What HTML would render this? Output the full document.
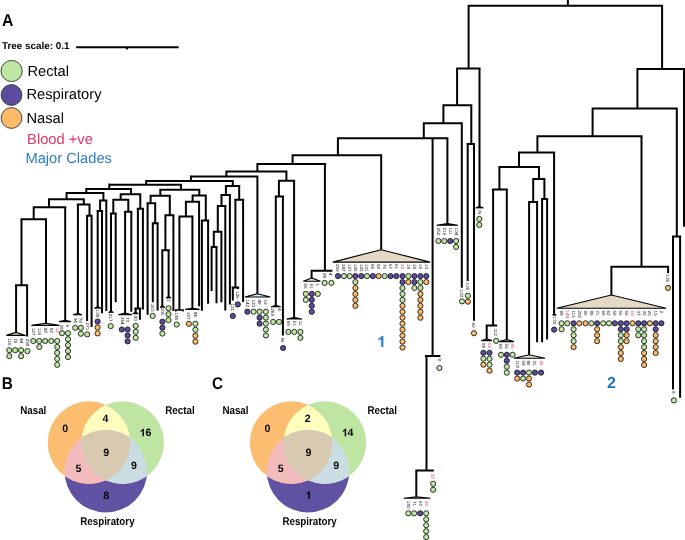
<!DOCTYPE html>
<html><head><meta charset="utf-8"><style>
html,body{margin:0;padding:0;background:#fff;}
body{width:685px;height:540px;overflow:hidden;}
svg{display:block;font-family:"Liberation Sans",sans-serif;text-rendering:geometricPrecision;opacity:0.995;}
</style></head><body>
<svg width="685" height="540" viewBox="0 0 685 540">
<text transform="translate(2.1 25.9) scale(0.92 1)" font-size="17.2" font-weight="bold">A</text>
<text x="2" y="48.9" font-size="9.9" font-weight="bold">Tree scale: 0.1</text>
<path d="M76.1 47.3H178.6M126.9 47.3V49.4" stroke="#000" stroke-width="2"/>
<g stroke="#333" stroke-width="0.9"><circle cx="11.6" cy="71" r="10.6" fill="#bde7a3"/><circle cx="11.5" cy="95" r="10.4" fill="#5b4ba0"/><circle cx="11.5" cy="118" r="10.4" fill="#fdbb69"/></g>
<g font-size="14.7"><text x="27.4" y="75.8">Rectal</text><text x="26.4" y="99.2">Respiratory</text><text x="26.4" y="122.8">Nasal</text><text x="27.1" y="143.7" fill="#dc3366">Blood +ve</text><text x="25.4" y="163.1" fill="#2a7bc4">Major Clades</text></g>
<path d="M467.6 5.7H663.1M636.4 68.9H685.5M591.6 108.6H677.8M672 236.4H681.1M456.1 68.6H480.6M442.4 105.3H472.3M466.6 144.1H475.1M422.8 123.3H462.7M336.9 138.2H448.3M424.9 356H440.4M415.3 470.4H433.8M536.4 136.2H642.6M610.4 266.7H669.1M518 152.4H555.2M498.4 167.1H540M532.2 179.1H545.4M528.1 201.9H538.1M541.1 198.9H548.1M491.9 189.4H507.9M485.7 325.5H497.1M291.6 155.2H382.1M256.4 163.9H326.2M310.6 270.7H332.4M225.4 171.4H287.4M277.9 180.7H295.2M274.7 196.6H284M189.9 176.6H258.4M145.2 181.1H233.8M224.9 186.1H240.2M234.3 199.7H244.2M231.6 287.4H239.2M220.5 194.9H230.9M216.8 206.1H226.4M212.8 231.8H222.4M210.6 247.1H217.6M108.3 184.8H182M159.3 189.7H200.2M191.6 195.4H206.8M184.9 201.8H200M178.6 216.6H193.4M201 220.6H209.2M149.6 195.7H170.8M146.5 203.2H156.2M151.8 223.3H158.8M164.4 215.3H174.4M161.4 250.2H169.8M85.3 188.9H132M65.6 193.1H104.4M48 199.2H84.8M32.7 207.2H66.3M20.5 219.2H47M15 285.3H28.1M76.8 204.5H90.5M86 215.7H92.6M99.1 200.4H107.4M96.6 210.9H103.1M119.7 194.2H141.3M112.3 199.7H129.3M109.9 213.5H116.8M124.1 211.8H132.3M136.7 208.8H144.1M134.3 308.4H141.2M567.9 0V5.7M662.1 4.7V68.9M684 67.9V226.7M637.4 67.9V108.6M676.8 107.6V236.4M673 235.4V389.4M680.1 235.4V397.8M468.6 4.7V68.6M479.5 67.6V207.2M457.1 67.6V105.3M471.3 104.3V144.1M467.7 143.1V281M474 143.1V320.7M443.4 104.3V123.3M461.8 122.3V287.8M423.8 122.3V138.2M447.4 137.2V223.8M432.6 137.2V356M426.5 355V470.4M416.3 469.4V496.7M592.6 107.6V136.2M641.5 135.2V266.7M611.4 265.7V295M668.1 265.7V273.3M537.4 135.2V152.4M554.1 151.4V314.4M519 151.4V167.1M539 166.1V179.1M533.2 178.1V201.9M529.1 200.9V354.8M537.1 200.9V342.2M544.4 178.1V198.9M542.1 197.9V342.2M547.1 197.9V339.6M499.4 166.1V189.4M493.1 188.4V325.5M486.7 324.5V339.1M496.1 324.5V326.5M506.8 188.4V339.7M337.9 137.2V155.2M381.2 154.2V249.7M292.6 154.2V163.9M324.9 162.9V270.7M311.6 269.7V277.9M257.4 162.9V171.4M286.4 170.4V180.7M294.1 179.7V317.4M278.9 179.7V196.6M275.8 195.6V305.8M282.9 195.6V335.6M226.4 170.4V176.6M257.4 175.6V293.7M190.9 175.6V181.1M232.8 180.1V186.1M239.2 185.1V199.7M235.4 198.7V287.4M232.8 286.4V300.4M237.9 286.4V288.9M243.1 198.7V302.1M225.9 185.1V194.9M229.9 193.9V304.4M221.5 193.9V206.1M225.3 205.1V310.4M217.8 205.1V231.8M221.4 230.8V302.2M213.8 230.8V247.1M211.6 246.1V291.1M216.5 246.1V303.3M146.2 180.1V184.8M181 183.8V189.7M199.3 188.7V195.4M192.6 194.4V201.8M199.1 200.8V306.2M185.9 200.8V216.6M179.4 215.6V309.9M192.4 215.6V308.4M205.8 194.4V220.6M201.9 219.6V310.7M208.1 219.6V303.8M160.3 188.7V195.7M150.6 194.7V203.2M147.6 202.2V314.8M155.2 202.2V223.3M152.8 222.3V302.3M157.6 222.3V310.6M169.8 194.7V215.3M173.4 214.3V311.1M165.4 214.3V250.2M162.3 249.2V306.5M168.6 249.2V297.2M109.3 183.6V188.9M86.3 187.9V193.1M66.6 192.1V199.2M49 198.2V207.2M33.7 206.2V219.2M21.5 218.2V285.3M16.1 284.3V332.4M27.1 284.3V336.5M46 218.2V323.3M65.2 206.2V320.4M83.8 198.2V204.5M77.9 203.5V314.1M89.5 203.5V215.7M87.1 214.7V321.1M91.6 214.7V327M103.4 192.1V200.4M106.3 199.4V311M100.1 199.4V210.9M97.7 209.9V307.4M102 209.9V313.3M131 187.9V194.2M120.7 193.2V199.7M113.3 198.7V213.5M111 212.5V311.6M115.7 212.5V302.2M128.3 198.7V211.8M125.1 210.8V313.3M131.3 210.8V311.8M140.3 193.2V208.8M137.9 207.8V308.4M135.7 307.4V313.2M139.9 307.4V319.8M142.9 207.8V309.6" stroke="#000" stroke-width="2.0" fill="none"/>
<path d="M16.1 332.4L6.3 335.4L25.6 335.4Z" fill="#c8eab4" stroke="#000" stroke-width="1.1" stroke-linejoin="miter"/><path d="M46 323.3L31.4 325.4L59.3 325.4Z" fill="#c8eab4" stroke="#000" stroke-width="1.1" stroke-linejoin="miter"/><path d="M65.2 320.4L59.1 321.6L70.9 321.6Z" fill="#c8eab4" stroke="#000" stroke-width="1.1" stroke-linejoin="miter"/><path d="M125.1 313L118.3 314.8L132 314.8Z" fill="#222" stroke="#000" stroke-width="1.1" stroke-linejoin="miter"/><path d="M135.7 312.6L132.7 313.6L138.2 313.6Z" fill="#222" stroke="#000" stroke-width="1.1" stroke-linejoin="miter"/><path d="M192.4 308.2L185.3 309.4L199.6 309.4Z" fill="#222" stroke="#000" stroke-width="1.1" stroke-linejoin="miter"/><path d="M257.4 293.7L244.8 297L270.4 297Z" fill="#d6ebf3" stroke="#000" stroke-width="1.1" stroke-linejoin="miter"/><path d="M311.6 277.9L303.3 281.2L320.4 281.2Z" fill="#d6ebf3" stroke="#000" stroke-width="1.1" stroke-linejoin="miter"/><path d="M381.2 249.7L332.8 262.1L430 262.1Z" fill="#e3d9c6" stroke="#000" stroke-width="1.1" stroke-linejoin="miter"/><path d="M447.4 223.6L436.6 225.2L457.9 225.2Z" fill="#222" stroke="#000" stroke-width="1.1" stroke-linejoin="miter"/><path d="M486.7 338.9L481.3 340.6L492 340.6Z" fill="#e8e0d0" stroke="#000" stroke-width="1.1" stroke-linejoin="miter"/><path d="M506.8 339.6L499.1 341.6L513.9 341.6Z" fill="#e8e0d0" stroke="#000" stroke-width="1.1" stroke-linejoin="miter"/><path d="M529.1 354.8L514 358.2L545 358.2Z" fill="#e8e0d0" stroke="#000" stroke-width="1.1" stroke-linejoin="miter"/><path d="M611.4 295L556.7 308.2L666.2 308.2Z" fill="#e3d9c6" stroke="#000" stroke-width="1.1" stroke-linejoin="miter"/><path d="M416.3 496.7L403.7 498.3L430.4 498.3Z" fill="#dde8ea" stroke="#000" stroke-width="1.1" stroke-linejoin="miter"/><path d="M77.9 313.1L73.1 314.85L82 314.85Z" fill="#000" stroke="#000" stroke-width="0.9" stroke-linejoin="round"/><path d="M97.7 306.4L94.4 308.15L100.9 308.15Z" fill="#000" stroke="#000" stroke-width="0.9" stroke-linejoin="round"/><path d="M162.3 305.5L160 307.25L164.8 307.25Z" fill="#000" stroke="#000" stroke-width="0.9" stroke-linejoin="round"/><path d="M168.6 296.2L165.9 297.95L171.1 297.95Z" fill="#000" stroke="#000" stroke-width="0.9" stroke-linejoin="round"/><path d="M275.8 305.1L271.1 306.85L280.7 306.85Z" fill="#000" stroke="#000" stroke-width="0.9" stroke-linejoin="round"/><path d="M294.1 317.3L286.7 319.05L301.8 319.05Z" fill="#000" stroke="#000" stroke-width="0.9" stroke-linejoin="round"/><path d="M479.5 206.2L475.7 207.95L483.4 207.95Z" fill="#000" stroke="#000" stroke-width="0.9" stroke-linejoin="round"/><path d="M554.1 313.4L552.6 315.15L556.3 315.15Z" fill="#000" stroke="#000" stroke-width="0.9" stroke-linejoin="round"/><path d="M111 310.6L108.6 312.35L113.4 312.35Z" fill="#000" stroke="#000" stroke-width="0.9" stroke-linejoin="round"/><path d="M175.7 311.4V309.9H183.1V311.4" fill="none" stroke="#000" stroke-width="1.5"/>
<g stroke="#111" stroke-width="0.85"><circle cx="9.3" cy="350.2" r="2.6" fill="#bde7a3"/><circle cx="9.3" cy="356.15" r="2.6" fill="#bde7a3"/><circle cx="15.2" cy="350.2" r="2.6" fill="#bde7a3"/><circle cx="21.1" cy="350.2" r="2.6" fill="#bde7a3"/><circle cx="21.1" cy="356.15" r="2.6" fill="#bde7a3"/><circle cx="27.4" cy="351.1" r="2.6" fill="#bde7a3"/><circle cx="33.3" cy="341" r="2.6" fill="#bde7a3"/><circle cx="39.3" cy="341" r="2.6" fill="#bde7a3"/><circle cx="39.3" cy="346.95" r="2.6" fill="#bde7a3"/><circle cx="45.2" cy="341" r="2.6" fill="#bde7a3"/><circle cx="51.3" cy="341" r="2.6" fill="#bde7a3"/><circle cx="57.2" cy="341" r="2.6" fill="#bde7a3"/><circle cx="57.2" cy="346.95" r="2.6" fill="#bde7a3"/><circle cx="57.2" cy="352.9" r="2.6" fill="#bde7a3"/><circle cx="57.2" cy="358.85" r="2.6" fill="#bde7a3"/><circle cx="57.2" cy="364.8" r="2.6" fill="#bde7a3"/><circle cx="62" cy="333.2" r="2.6" fill="#bde7a3"/><circle cx="68" cy="333.2" r="2.6" fill="#bde7a3"/><circle cx="68" cy="339.15" r="2.6" fill="#bde7a3"/><circle cx="68" cy="345.1" r="2.6" fill="#bde7a3"/><circle cx="68" cy="351.05" r="2.6" fill="#bde7a3"/><circle cx="68" cy="357" r="2.6" fill="#bde7a3"/><circle cx="75.2" cy="327.8" r="2.6" fill="#bde7a3"/><circle cx="80.9" cy="327.8" r="2.6" fill="#bde7a3"/><circle cx="80.9" cy="333.75" r="2.6" fill="#bde7a3"/><circle cx="87.2" cy="334.4" r="2.6" fill="#bde7a3"/><circle cx="97.6" cy="321.5" r="2.6" fill="#5b4ba0"/><circle cx="97.6" cy="327.45" r="2.6" fill="#fdbb69"/><circle cx="97.6" cy="333.4" r="2.6" fill="#fdbb69"/><circle cx="110.7" cy="326.1" r="2.6" fill="#bde7a3"/><circle cx="121.8" cy="329.5" r="2.6" fill="#5b4ba0"/><circle cx="127.6" cy="329.5" r="2.6" fill="#5b4ba0"/><circle cx="127.6" cy="335.45" r="2.6" fill="#5b4ba0"/><circle cx="127.6" cy="341.4" r="2.6" fill="#5b4ba0"/><circle cx="135.7" cy="325.9" r="2.6" fill="#bde7a3"/><circle cx="135.7" cy="331.85" r="2.6" fill="#bde7a3"/><circle cx="135.7" cy="337.8" r="2.6" fill="#bde7a3"/><circle cx="152.7" cy="315.9" r="2.6" fill="#bde7a3"/><circle cx="162.4" cy="321.7" r="2.6" fill="#5b4ba0"/><circle cx="162.4" cy="327.65" r="2.6" fill="#5b4ba0"/><circle cx="162.4" cy="333.6" r="2.6" fill="#bde7a3"/><circle cx="168.5" cy="308.2" r="2.6" fill="#bde7a3"/><circle cx="168.5" cy="314.15" r="2.6" fill="#bde7a3"/><circle cx="168.5" cy="320.1" r="2.6" fill="#bde7a3"/><circle cx="176.7" cy="324.5" r="2.6" fill="#bde7a3"/><circle cx="188.9" cy="323.8" r="2.6" fill="#fdbb69"/><circle cx="195.4" cy="323.8" r="2.6" fill="#bde7a3"/><circle cx="195.4" cy="329.75" r="2.6" fill="#bde7a3"/><circle cx="195.4" cy="335.7" r="2.6" fill="#fdbb69"/><circle cx="195.4" cy="341.65" r="2.6" fill="#fdbb69"/><circle cx="232.8" cy="315.9" r="2.6" fill="#5b4ba0"/><circle cx="237.8" cy="304.4" r="2.6" fill="#5b4ba0"/><circle cx="247.4" cy="311.7" r="2.6" fill="#5b4ba0"/><circle cx="253.6" cy="311.7" r="2.6" fill="#bde7a3"/><circle cx="259.6" cy="311.7" r="2.6" fill="#bde7a3"/><circle cx="259.6" cy="317.65" r="2.6" fill="#5b4ba0"/><circle cx="259.6" cy="323.6" r="2.6" fill="#5b4ba0"/><circle cx="265.9" cy="311.7" r="2.6" fill="#bde7a3"/><circle cx="265.9" cy="317.65" r="2.6" fill="#bde7a3"/><circle cx="265.9" cy="323.6" r="2.6" fill="#bde7a3"/><circle cx="265.9" cy="329.55" r="2.6" fill="#bde7a3"/><circle cx="265.9" cy="335.5" r="2.6" fill="#bde7a3"/><circle cx="273.1" cy="321.9" r="2.6" fill="#bde7a3"/><circle cx="279.1" cy="321.9" r="2.6" fill="#bde7a3"/><circle cx="283.1" cy="348" r="2.6" fill="#5b4ba0"/><circle cx="288.4" cy="331.9" r="2.6" fill="#bde7a3"/><circle cx="294.3" cy="331.9" r="2.6" fill="#bde7a3"/><circle cx="300.4" cy="331.9" r="2.6" fill="#bde7a3"/><circle cx="300.4" cy="337.85" r="2.6" fill="#bde7a3"/><circle cx="305.8" cy="293.9" r="2.6" fill="#bde7a3"/><circle cx="305.8" cy="299.85" r="2.6" fill="#bde7a3"/><circle cx="311.8" cy="293.9" r="2.6" fill="#5b4ba0"/><circle cx="311.8" cy="299.85" r="2.6" fill="#5b4ba0"/><circle cx="311.8" cy="305.8" r="2.6" fill="#5b4ba0"/><circle cx="311.8" cy="311.75" r="2.6" fill="#5b4ba0"/><circle cx="317.8" cy="293.9" r="2.6" fill="#bde7a3"/><circle cx="324.6" cy="282.9" r="2.6" fill="#bde7a3"/><circle cx="331.4" cy="282.9" r="2.6" fill="#bde7a3"/><circle cx="438.4" cy="241" r="2.6" fill="#bde7a3"/><circle cx="444.3" cy="241" r="2.6" fill="#bde7a3"/><circle cx="450.2" cy="241" r="2.6" fill="#5b4ba0"/><circle cx="456.1" cy="241" r="2.6" fill="#bde7a3"/><circle cx="456.1" cy="246.95" r="2.6" fill="#bde7a3"/><circle cx="479.3" cy="219" r="2.6" fill="#bde7a3"/><circle cx="479.3" cy="224.95" r="2.6" fill="#bde7a3"/><circle cx="462" cy="301.4" r="2.6" fill="#bde7a3"/><circle cx="467.9" cy="295.7" r="2.6" fill="#bde7a3"/><circle cx="467.9" cy="301.65" r="2.6" fill="#fdbb69"/><circle cx="474" cy="333.2" r="2.6" fill="#fdbb69"/><circle cx="439.4" cy="368" r="2.6" fill="#bde7a3"/><circle cx="408.4" cy="513.3" r="2.6" fill="#bde7a3"/><circle cx="414.2" cy="513.3" r="2.6" fill="#bde7a3"/><circle cx="420.2" cy="513.3" r="2.6" fill="#5b4ba0"/><circle cx="426.2" cy="513.3" r="2.6" fill="#bde7a3"/><circle cx="426.2" cy="519.25" r="2.6" fill="#bde7a3"/><circle cx="426.2" cy="525.2" r="2.6" fill="#bde7a3"/><circle cx="426.2" cy="531.15" r="2.6" fill="#bde7a3"/><circle cx="426.2" cy="537.1" r="2.6" fill="#bde7a3"/><circle cx="433.1" cy="483.8" r="2.6" fill="#bde7a3"/><circle cx="433.1" cy="489.75" r="2.6" fill="#bde7a3"/><circle cx="483.4" cy="352.8" r="2.6" fill="#5b4ba0"/><circle cx="483.4" cy="358.75" r="2.6" fill="#bde7a3"/><circle cx="483.4" cy="364.7" r="2.6" fill="#fdbb69"/><circle cx="489.5" cy="352.8" r="2.6" fill="#5b4ba0"/><circle cx="489.5" cy="358.75" r="2.6" fill="#bde7a3"/><circle cx="489.5" cy="364.7" r="2.6" fill="#bde7a3"/><circle cx="489.5" cy="370.65" r="2.6" fill="#fdbb69"/><circle cx="496.1" cy="340.9" r="2.6" fill="#bde7a3"/><circle cx="501" cy="354.8" r="2.6" fill="#bde7a3"/><circle cx="506.8" cy="354.8" r="2.6" fill="#5b4ba0"/><circle cx="506.8" cy="360.75" r="2.6" fill="#5b4ba0"/><circle cx="506.8" cy="366.7" r="2.6" fill="#bde7a3"/><circle cx="506.8" cy="372.65" r="2.6" fill="#bde7a3"/><circle cx="512.6" cy="354.8" r="2.6" fill="#bde7a3"/><circle cx="517.2" cy="372.6" r="2.6" fill="#5b4ba0"/><circle cx="517.2" cy="378.55" r="2.6" fill="#fdbb69"/><circle cx="523.1" cy="372.6" r="2.6" fill="#5b4ba0"/><circle cx="523.1" cy="378.55" r="2.6" fill="#bde7a3"/><circle cx="529" cy="372.6" r="2.6" fill="#bde7a3"/><circle cx="529" cy="378.55" r="2.6" fill="#fdbb69"/><circle cx="529" cy="384.5" r="2.6" fill="#fdbb69"/><circle cx="534.9" cy="372.6" r="2.6" fill="#5b4ba0"/><circle cx="541.1" cy="372.6" r="2.6" fill="#5b4ba0"/><circle cx="554.1" cy="329.6" r="2.6" fill="#5b4ba0"/><circle cx="668" cy="287.9" r="2.6" fill="#fdbb69"/><circle cx="673.9" cy="400.4" r="2.6" fill="#bde7a3"/><circle cx="338" cy="276.1" r="2.6" fill="#5b4ba0"/><circle cx="343.9" cy="276.1" r="2.6" fill="#bde7a3"/><circle cx="349.7" cy="276.1" r="2.6" fill="#bde7a3"/><circle cx="355.4" cy="276.1" r="2.6" fill="#5b4ba0"/><circle cx="355.4" cy="282.05" r="2.6" fill="#bde7a3"/><circle cx="355.4" cy="288" r="2.6" fill="#fdbb69"/><circle cx="355.4" cy="293.95" r="2.6" fill="#fdbb69"/><circle cx="355.4" cy="299.9" r="2.6" fill="#fdbb69"/><circle cx="355.4" cy="305.85" r="2.6" fill="#fdbb69"/><circle cx="361.3" cy="276.1" r="2.6" fill="#5b4ba0"/><circle cx="367" cy="276.1" r="2.6" fill="#bde7a3"/><circle cx="372.9" cy="276.1" r="2.6" fill="#5b4ba0"/><circle cx="378.6" cy="276.1" r="2.6" fill="#fdbb69"/><circle cx="384.6" cy="276.1" r="2.6" fill="#bde7a3"/><circle cx="390.5" cy="276.1" r="2.6" fill="#5b4ba0"/><circle cx="396.3" cy="276.1" r="2.6" fill="#5b4ba0"/><circle cx="402.5" cy="276.1" r="2.6" fill="#5b4ba0"/><circle cx="402.5" cy="282.05" r="2.6" fill="#5b4ba0"/><circle cx="402.5" cy="288" r="2.6" fill="#bde7a3"/><circle cx="402.5" cy="293.95" r="2.6" fill="#bde7a3"/><circle cx="402.5" cy="299.9" r="2.6" fill="#bde7a3"/><circle cx="402.5" cy="305.85" r="2.6" fill="#fdbb69"/><circle cx="402.5" cy="311.8" r="2.6" fill="#fdbb69"/><circle cx="402.5" cy="317.75" r="2.6" fill="#fdbb69"/><circle cx="402.5" cy="323.7" r="2.6" fill="#fdbb69"/><circle cx="402.5" cy="329.65" r="2.6" fill="#fdbb69"/><circle cx="402.5" cy="335.6" r="2.6" fill="#fdbb69"/><circle cx="402.5" cy="341.55" r="2.6" fill="#fdbb69"/><circle cx="402.5" cy="347.5" r="2.6" fill="#fdbb69"/><circle cx="408.4" cy="276.1" r="2.6" fill="#bde7a3"/><circle cx="408.4" cy="282.05" r="2.6" fill="#fdbb69"/><circle cx="414.4" cy="276.1" r="2.6" fill="#5b4ba0"/><circle cx="414.4" cy="282.05" r="2.6" fill="#5b4ba0"/><circle cx="414.4" cy="288" r="2.6" fill="#bde7a3"/><circle cx="420.4" cy="276.1" r="2.6" fill="#5b4ba0"/><circle cx="420.4" cy="282.05" r="2.6" fill="#bde7a3"/><circle cx="420.4" cy="288" r="2.6" fill="#bde7a3"/><circle cx="420.4" cy="293.95" r="2.6" fill="#fdbb69"/><circle cx="420.4" cy="299.9" r="2.6" fill="#fdbb69"/><circle cx="420.4" cy="305.85" r="2.6" fill="#fdbb69"/><circle cx="420.4" cy="311.8" r="2.6" fill="#fdbb69"/><circle cx="420.4" cy="317.75" r="2.6" fill="#fdbb69"/><circle cx="426.3" cy="276.1" r="2.6" fill="#5b4ba0"/><circle cx="426.3" cy="282.05" r="2.6" fill="#fdbb69"/><circle cx="561.6" cy="323.3" r="2.6" fill="#bde7a3"/><circle cx="561.6" cy="329.25" r="2.6" fill="#bde7a3"/><circle cx="567.3" cy="323.3" r="2.6" fill="#bde7a3"/><circle cx="573.6" cy="323.3" r="2.6" fill="#5b4ba0"/><circle cx="573.6" cy="329.25" r="2.6" fill="#bde7a3"/><circle cx="573.6" cy="335.2" r="2.6" fill="#bde7a3"/><circle cx="573.6" cy="341.15" r="2.6" fill="#bde7a3"/><circle cx="573.6" cy="347.1" r="2.6" fill="#fdbb69"/><circle cx="579.3" cy="323.3" r="2.6" fill="#fdbb69"/><circle cx="585.6" cy="323.3" r="2.6" fill="#fdbb69"/><circle cx="591.3" cy="323.3" r="2.6" fill="#bde7a3"/><circle cx="597.1" cy="323.3" r="2.6" fill="#5b4ba0"/><circle cx="597.1" cy="329.25" r="2.6" fill="#fdbb69"/><circle cx="597.1" cy="335.2" r="2.6" fill="#fdbb69"/><circle cx="597.1" cy="341.15" r="2.6" fill="#fdbb69"/><circle cx="603.2" cy="323.3" r="2.6" fill="#bde7a3"/><circle cx="609" cy="323.3" r="2.6" fill="#bde7a3"/><circle cx="614.8" cy="323.3" r="2.6" fill="#5b4ba0"/><circle cx="620.8" cy="323.3" r="2.6" fill="#5b4ba0"/><circle cx="620.8" cy="329.25" r="2.6" fill="#5b4ba0"/><circle cx="620.8" cy="335.2" r="2.6" fill="#bde7a3"/><circle cx="620.8" cy="341.15" r="2.6" fill="#bde7a3"/><circle cx="620.8" cy="347.1" r="2.6" fill="#fdbb69"/><circle cx="620.8" cy="353.05" r="2.6" fill="#fdbb69"/><circle cx="620.8" cy="359" r="2.6" fill="#fdbb69"/><circle cx="626.6" cy="323.3" r="2.6" fill="#5b4ba0"/><circle cx="626.6" cy="329.25" r="2.6" fill="#5b4ba0"/><circle cx="626.6" cy="335.2" r="2.6" fill="#fdbb69"/><circle cx="626.6" cy="341.15" r="2.6" fill="#fdbb69"/><circle cx="632.6" cy="323.3" r="2.6" fill="#fdbb69"/><circle cx="638.3" cy="323.3" r="2.6" fill="#5b4ba0"/><circle cx="638.3" cy="329.25" r="2.6" fill="#bde7a3"/><circle cx="638.3" cy="335.2" r="2.6" fill="#bde7a3"/><circle cx="644.1" cy="323.3" r="2.6" fill="#5b4ba0"/><circle cx="644.1" cy="329.25" r="2.6" fill="#bde7a3"/><circle cx="644.1" cy="335.2" r="2.6" fill="#bde7a3"/><circle cx="644.1" cy="341.15" r="2.6" fill="#bde7a3"/><circle cx="644.1" cy="347.1" r="2.6" fill="#bde7a3"/><circle cx="644.1" cy="353.05" r="2.6" fill="#fdbb69"/><circle cx="644.1" cy="359" r="2.6" fill="#fdbb69"/><circle cx="644.1" cy="364.95" r="2.6" fill="#fdbb69"/><circle cx="649.9" cy="323.3" r="2.6" fill="#fdbb69"/><circle cx="655.7" cy="323.3" r="2.6" fill="#5b4ba0"/><circle cx="655.7" cy="329.25" r="2.6" fill="#5b4ba0"/><circle cx="655.7" cy="335.2" r="2.6" fill="#fdbb69"/><circle cx="655.7" cy="341.15" r="2.6" fill="#fdbb69"/><circle cx="655.7" cy="347.1" r="2.6" fill="#fdbb69"/><circle cx="655.7" cy="353.05" r="2.6" fill="#fdbb69"/><circle cx="661.4" cy="323.3" r="2.6" fill="#5b4ba0"/></g>
<g font-size="4.6" style="opacity:0.99"><text transform="translate(7.7 338.3) rotate(90)" fill="#111">116</text><text transform="translate(13.6 338.3) rotate(90)" fill="#111">75</text><text transform="translate(19.5 338.3) rotate(90)" fill="#111">44</text><text transform="translate(25.8 338.7) rotate(90)" fill="#111">208</text><text transform="translate(31.7 327.8) rotate(90)" fill="#111">127</text><text transform="translate(37.7 327.8) rotate(90)" fill="#111">116</text><text transform="translate(43.6 327.8) rotate(90)" fill="#111">88</text><text transform="translate(49.7 327.8) rotate(90)" fill="#111">82</text><text transform="translate(55.6 327.8) rotate(90)" fill="#e0306e">12</text><text transform="translate(60.4 324.4) rotate(90)" fill="#111">28</text><text transform="translate(66.4 324.4) rotate(90)" fill="#111">6</text><text transform="translate(73.8 317.8) rotate(90)" fill="#111">34</text><text transform="translate(78.6 317.8) rotate(90)" fill="#111">78</text><text transform="translate(85.6 322.6) rotate(90)" fill="#111">271</text><text transform="translate(96 309.6) rotate(90)" fill="#111">138</text><text transform="translate(109.4 313.8) rotate(90)" fill="#111">217</text><text transform="translate(120.8 317) rotate(90)" fill="#111">264</text><text transform="translate(126.4 317) rotate(90)" fill="#111">73</text><text transform="translate(133.8 315.8) rotate(90)" fill="#111">80</text><text transform="translate(151.1 303.8) rotate(90)" fill="#111">163</text><text transform="translate(160.6 308) rotate(90)" fill="#111">205</text><text transform="translate(166.9 299) rotate(90)" fill="#111">3</text><text transform="translate(174.8 312.6) rotate(90)" fill="#111">145</text><text transform="translate(187.3 311.8) rotate(90)" fill="#111">187</text><text transform="translate(193.8 311.8) rotate(90)" fill="#111">84</text><text transform="translate(231.2 303.4) rotate(90)" fill="#111">121</text><text transform="translate(236 291.2) rotate(90)" fill="#111">126</text><text transform="translate(245.8 299.4) rotate(90)" fill="#111">142</text><text transform="translate(252 299.4) rotate(90)" fill="#111">120</text><text transform="translate(258 299.4) rotate(90)" fill="#111">49</text><text transform="translate(264.3 299.4) rotate(90)" fill="#111">19</text><text transform="translate(271.4 308.3) rotate(90)" fill="#111">268</text><text transform="translate(277.5 308.3) rotate(90)" fill="#111">4</text><text transform="translate(281.4 337.4) rotate(90)" fill="#111">86</text><text transform="translate(286.8 320.8) rotate(90)" fill="#111">69</text><text transform="translate(292.6 320.8) rotate(90)" fill="#111">51</text><text transform="translate(298.7 320.8) rotate(90)" fill="#111">11</text><text transform="translate(303.7 283.5) rotate(90)" fill="#111">65</text><text transform="translate(310 283.5) rotate(90)" fill="#111">51</text><text transform="translate(315.6 283.5) rotate(90)" fill="#111">1</text><text transform="translate(322.7 273) rotate(90)" fill="#111">88</text><text transform="translate(329.2 273) rotate(90)" fill="#111">4</text><text transform="translate(436.8 227.6) rotate(90)" fill="#111">252</text><text transform="translate(442.7 227.6) rotate(90)" fill="#111">215</text><text transform="translate(448.6 227.6) rotate(90)" fill="#111">111</text><text transform="translate(454.5 227.6) rotate(90)" fill="#111">104</text><text transform="translate(477.7 209.4) rotate(90)" fill="#111">76</text><text transform="translate(460.2 289.6) rotate(90)" fill="#111">103</text><text transform="translate(466.1 282.6) rotate(90)" fill="#111">105</text><text transform="translate(472.4 322.5) rotate(90)" fill="#111">60</text><text transform="translate(437.8 358.2) rotate(90)" fill="#111">8</text><text transform="translate(406.8 501) rotate(90)" fill="#111">180</text><text transform="translate(412.6 501) rotate(90)" fill="#111">71</text><text transform="translate(418.6 501) rotate(90)" fill="#111">67</text><text transform="translate(424.6 501) rotate(90)" fill="#e0306e">20</text><text transform="translate(431.2 473.4) rotate(90)" fill="#e0306e">30</text><text transform="translate(481.5 343) rotate(90)" fill="#111">88</text><text transform="translate(487.8 343) rotate(90)" fill="#e0306e">52</text><text transform="translate(494.2 328.4) rotate(90)" fill="#111">112</text><text transform="translate(499.3 343.6) rotate(90)" fill="#111">98</text><text transform="translate(505.2 343.6) rotate(90)" fill="#111">56</text><text transform="translate(511.1 343.6) rotate(90)" fill="#e0306e">45</text><text transform="translate(515.6 360.4) rotate(90)" fill="#111">118</text><text transform="translate(521.5 360.4) rotate(90)" fill="#111">58</text><text transform="translate(527.4 360.4) rotate(90)" fill="#111">46</text><text transform="translate(533.3 360.4) rotate(90)" fill="#111">31</text><text transform="translate(539.5 360.4) rotate(90)" fill="#e0306e">26</text><text transform="translate(552.5 316.6) rotate(90)" fill="#111">130</text><text transform="translate(666.2 274.4) rotate(90)" fill="#111">136</text><text transform="translate(671.5 391) rotate(90)" fill="#111">8</text><text transform="translate(336.4 264) rotate(90)" fill="#111">250</text><text transform="translate(342.3 264) rotate(90)" fill="#111">247</text><text transform="translate(348.1 264) rotate(90)" fill="#111">127</text><text transform="translate(353.8 264) rotate(90)" fill="#111">126</text><text transform="translate(359.7 264) rotate(90)" fill="#111">125</text><text transform="translate(365.4 264) rotate(90)" fill="#111">101</text><text transform="translate(371.3 264) rotate(90)" fill="#111">95</text><text transform="translate(377 264) rotate(90)" fill="#111">92</text><text transform="translate(383 264) rotate(90)" fill="#111">76</text><text transform="translate(388.9 264) rotate(90)" fill="#111">67</text><text transform="translate(394.7 264) rotate(90)" fill="#111">61</text><text transform="translate(400.9 264) rotate(90)" fill="#e0306e">20</text><text transform="translate(406.8 264) rotate(90)" fill="#111">19</text><text transform="translate(412.8 264) rotate(90)" fill="#111">18</text><text transform="translate(418.8 264) rotate(90)" fill="#111">15</text><text transform="translate(424.7 264) rotate(90)" fill="#111">10</text><text transform="translate(560 310.4) rotate(90)" fill="#111">98</text><text transform="translate(565.7 310.4) rotate(90)" fill="#e0306e">144</text><text transform="translate(572 310.4) rotate(90)" fill="#111">115</text><text transform="translate(577.7 310.4) rotate(90)" fill="#111">207</text><text transform="translate(584 310.4) rotate(90)" fill="#111">95</text><text transform="translate(589.7 310.4) rotate(90)" fill="#111">89</text><text transform="translate(595.5 310.4) rotate(90)" fill="#111">71</text><text transform="translate(601.6 310.4) rotate(90)" fill="#111">69</text><text transform="translate(607.4 310.4) rotate(90)" fill="#111">62</text><text transform="translate(613.2 310.4) rotate(90)" fill="#111">59</text><text transform="translate(619.2 310.4) rotate(90)" fill="#111">55</text><text transform="translate(625 310.4) rotate(90)" fill="#111">52</text><text transform="translate(631 310.4) rotate(90)" fill="#e0306e">50</text><text transform="translate(636.7 310.4) rotate(90)" fill="#111">37</text><text transform="translate(642.5 310.4) rotate(90)" fill="#111">30</text><text transform="translate(648.3 310.4) rotate(90)" fill="#111">20</text><text transform="translate(654.1 310.4) rotate(90)" fill="#111">10</text><text transform="translate(659.8 310.4) rotate(90)" fill="#111">2</text></g>
<path transform="translate(376.8 346.9) scale(0.00757 -0.00757)" d="M856 0H575V1059Q421 915 212 846V1101Q322 1137 451 1237Q580 1337 628 1466H856Z" fill="#1f72bd"/>
<text x="607.1" y="387.9" font-size="16" font-weight="bold" fill="#1f72bd">2</text>
<defs><clipPath id="oB"><circle cx="89" cy="442.6" r="41.3"/></clipPath><clipPath id="gB"><circle cx="122.7" cy="442.6" r="41.3"/></clipPath><clipPath id="pB"><circle cx="105.85" cy="471.2" r="41.3"/></clipPath></defs><circle cx="105.85" cy="471.2" r="41.3" fill="#5f50a2"/><circle cx="89" cy="442.6" r="41.3" fill="#fcbd70"/><circle cx="122.7" cy="442.6" r="41.3" fill="#bee5a1"/><g clip-path="url(#gB)"><circle cx="89" cy="442.6" r="41.3" fill="#fefdbd"/></g><g clip-path="url(#oB)"><circle cx="105.85" cy="471.2" r="41.3" fill="#f2bcbc"/></g><g clip-path="url(#gB)"><circle cx="105.85" cy="471.2" r="41.3" fill="#c9dde3"/></g><g clip-path="url(#gB)"><g clip-path="url(#oB)"><circle cx="105.85" cy="471.2" r="41.3" fill="#d8cab0"/></g></g><text x="62.35" y="432.2" font-size="10.6" font-weight="bold">0</text><text x="102.55" y="422.1" font-size="10.6" font-weight="bold">4</text><path transform="translate(139.51 436.3) scale(0.00518 -0.00518)" d="M856 0H575V1059Q421 915 212 846V1101Q322 1137 451 1237Q580 1337 628 1466H856Z" fill="#000"/><text x="145.4" y="436.3" font-size="10.6" font-weight="bold">6</text><text x="103.25" y="455.8" font-size="10.6" font-weight="bold">9</text><text x="75.55" y="471.9" font-size="10.6" font-weight="bold">5</text><text x="130.95" y="469" font-size="10.6" font-weight="bold">9</text><text x="103.25" y="498.9" font-size="10.6" font-weight="bold">8</text><g font-size="11.2" font-weight="bold"><text transform="translate(20.2 413.9) scale(0.875 1)">Nasal</text><text transform="translate(165.3 413.9) scale(0.875 1)">Rectal</text><text transform="translate(80.2 525.1) scale(0.875 1)">Respiratory</text></g>
<defs><clipPath id="oC"><circle cx="291.2" cy="442.6" r="41.3"/></clipPath><clipPath id="gC"><circle cx="324.9" cy="442.6" r="41.3"/></clipPath><clipPath id="pC"><circle cx="308.05" cy="471.2" r="41.3"/></clipPath></defs><circle cx="308.05" cy="471.2" r="41.3" fill="#5f50a2"/><circle cx="291.2" cy="442.6" r="41.3" fill="#fcbd70"/><circle cx="324.9" cy="442.6" r="41.3" fill="#bee5a1"/><g clip-path="url(#gC)"><circle cx="291.2" cy="442.6" r="41.3" fill="#fefdbd"/></g><g clip-path="url(#oC)"><circle cx="308.05" cy="471.2" r="41.3" fill="#f2bcbc"/></g><g clip-path="url(#gC)"><circle cx="308.05" cy="471.2" r="41.3" fill="#c9dde3"/></g><g clip-path="url(#gC)"><g clip-path="url(#oC)"><circle cx="308.05" cy="471.2" r="41.3" fill="#d8cab0"/></g></g><text x="264.55" y="432.2" font-size="10.6" font-weight="bold">0</text><text x="304.75" y="422.1" font-size="10.6" font-weight="bold">2</text><path transform="translate(341.71 436.3) scale(0.00518 -0.00518)" d="M856 0H575V1059Q421 915 212 846V1101Q322 1137 451 1237Q580 1337 628 1466H856Z" fill="#000"/><text x="347.6" y="436.3" font-size="10.6" font-weight="bold">4</text><text x="305.45" y="455.8" font-size="10.6" font-weight="bold">9</text><text x="277.75" y="471.9" font-size="10.6" font-weight="bold">5</text><text x="333.15" y="469" font-size="10.6" font-weight="bold">9</text><path transform="translate(305.45 498.9) scale(0.00518 -0.00518)" d="M856 0H575V1059Q421 915 212 846V1101Q322 1137 451 1237Q580 1337 628 1466H856Z" fill="#000"/><g font-size="11.2" font-weight="bold"><text transform="translate(222.4 413.9) scale(0.875 1)">Nasal</text><text transform="translate(367.5 413.9) scale(0.875 1)">Rectal</text><text transform="translate(282.4 525.1) scale(0.875 1)">Respiratory</text></g>
<text transform="translate(1.8 388.9) scale(0.9 1)" font-size="17" font-weight="bold">B</text>
<text transform="translate(211.9 389) scale(0.9 1)" font-size="17" font-weight="bold">C</text>
</svg>
</body></html>
